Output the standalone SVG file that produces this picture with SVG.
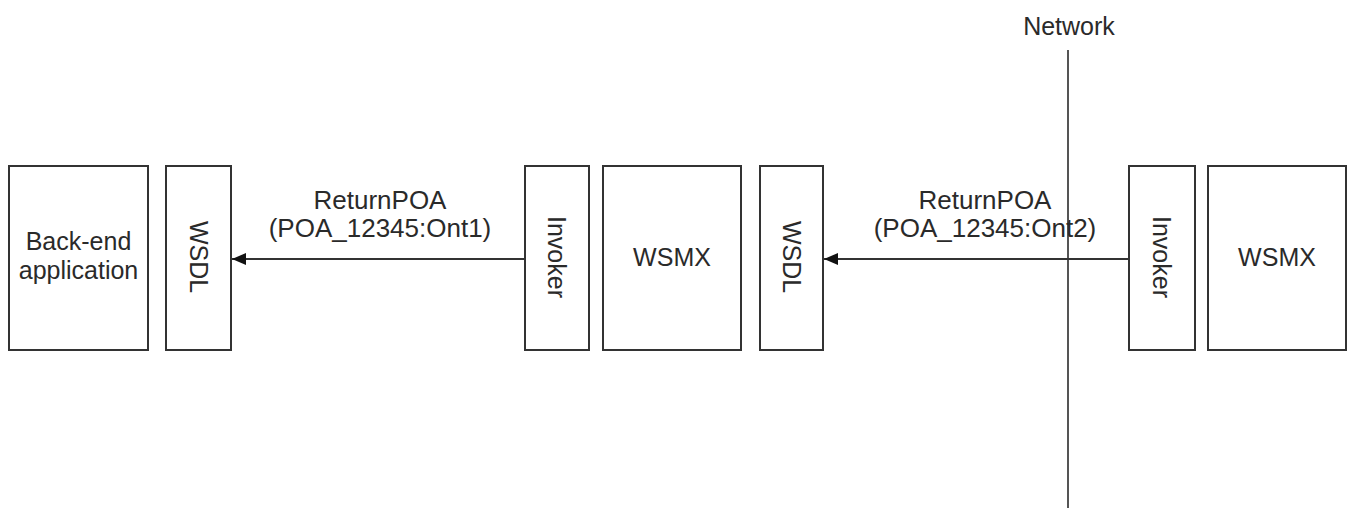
<svg xmlns="http://www.w3.org/2000/svg" width="1347" height="508" viewBox="0 0 1347 508">
<style>
.box{fill:#fff;stroke:#333;stroke-width:2}
.t{font-family:"Liberation Sans",Arial,sans-serif;font-size:25px;fill:#2a2a2a;text-anchor:middle}
.lbl{font-size:26px}
.conn{stroke:#333;stroke-width:2;fill:none}
</style>
<defs>
<marker id="arr" viewBox="0 0 14 12" refX="14" refY="6" markerWidth="14" markerHeight="12" markerUnits="userSpaceOnUse" orient="auto">
<path d="M0,0 L14,6 L0,12 z" fill="#111"/>
</marker>
</defs>
<rect width="1347" height="508" fill="#fff"/>
<g id="network">
<line x1="1068" y1="50" x2="1068" y2="508" stroke="#555" stroke-width="2"/>
<text class="t" x="1069" y="35">Network</text>
</g>
<g id="backend">
<rect class="box" x="9" y="166" width="139" height="184"/>
<text class="t" x="78.5" y="250">Back-end</text>
<text class="t" x="78.5" y="279">application</text>
</g>
<g id="wsdl1">
<rect class="box" x="166" y="166" width="65" height="184"/>
<text class="t" transform="translate(198.5,257) rotate(90)" dy="0.35em">WSDL</text>
</g>
<g id="invoker1">
<rect class="box" x="525" y="166" width="64" height="184"/>
<text class="t" transform="translate(557,257) rotate(90)" dy="0.35em">Invoker</text>
</g>
<g id="wsmx1">
<rect class="box" x="603" y="166" width="138" height="184"/>
<text class="t" x="672" y="266">WSMX</text>
</g>
<g id="wsdl2">
<rect class="box" x="760" y="166" width="63" height="184"/>
<text class="t" transform="translate(791.5,257) rotate(90)" dy="0.35em">WSDL</text>
</g>
<g id="invoker2">
<rect class="box" x="1129" y="166" width="66" height="184"/>
<text class="t" transform="translate(1162,257) rotate(90)" dy="0.35em">Invoker</text>
</g>
<g id="wsmx2">
<rect class="box" x="1208" y="166" width="138" height="184"/>
<text class="t" x="1277" y="266">WSMX</text>
</g>
<g id="connectors">
<line class="conn" x1="525" y1="259" x2="232" y2="259" marker-end="url(#arr)"/>
<text class="t lbl" x="380" y="209">ReturnPOA</text>
<text class="t lbl" x="380" y="237">(POA_12345:Ont1)</text>
<line class="conn" x1="1129" y1="259" x2="824" y2="259" marker-end="url(#arr)"/>
<text class="t lbl" x="985" y="209">ReturnPOA</text>
<text class="t lbl" x="985" y="237">(POA_12345:Ont2)</text>
</g>
</svg>
